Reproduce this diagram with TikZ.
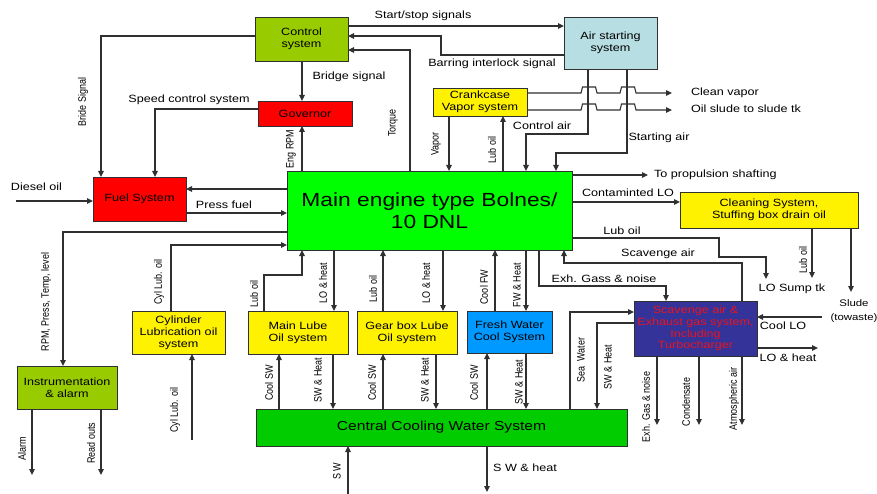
\documentclass[tikz,border=0pt]{standalone}
\usepackage{fontspec}
\usepackage{graphicx}
\setmainfont[FakeStretch=1.2]{Liberation Sans}
\newfontfamily\rotfont{Liberation Sans}
\usetikzlibrary{arrows.meta}
\definecolor{ctrlg}{HTML}{99CC00}
\definecolor{airb}{HTML}{B7DEE3}
\definecolor{maing}{HTML}{00FF00}
\definecolor{ccwg}{HTML}{00CC00}
\definecolor{freshb}{HTML}{0099FF}
\definecolor{scavb}{HTML}{333399}
\definecolor{scavt}{HTML}{E8141E}
\definecolor{lnc}{HTML}{303030}
\newcommand{\vs}[1]{\scalebox{1}[1.2]{#1}}
\begin{document}
\begin{tikzpicture}[x=1pt,y=-1pt,
  box/.style={draw=lnc, line width=0.9pt, inner sep=1pt, outer sep=0pt, align=center, font=\fontsize{10.5}{12}\selectfont},
  conn/.style={draw=lnc, line width=1.1pt},
  arr/.style={conn, -{Triangle[length=6pt,width=5.5pt]}},
  lbl/.style={inner sep=0pt, outer sep=0pt, font=\fontsize{10.5}{12}\selectfont},
  slbl/.style={inner sep=0pt, outer sep=0pt, font=\fontsize{9.5}{11}\selectfont},
  vlbl/.style={inner sep=0pt, outer sep=0pt, rotate=90, font=\rotfont\fontsize{9}{11}\selectfont}]
\useasboundingbox (0,0) rectangle (877,494);
\fill[white] (0,0) rectangle (877,494);

% boxes
\node[box, fill=ctrlg, minimum width=93pt, minimum height=44pt] (ctrl) at (301.5,39) {Control\\system};
\node[box, fill=airb, minimum width=93pt, minimum height=52pt] (air) at (610.5,43) {Air starting\\system};
\node[box, fill=red, minimum width=94pt, minimum height=25pt] (gov) at (305,113.5) {Governor};
\node[box, fill=yellow, minimum width=94pt, minimum height=28pt] (crank) at (480,102) {Crankcase\\Vapor system};
\node[box, fill=red, minimum width=93pt, minimum height=44pt] (fuel) at (139.5,199) {Fuel System};
\node[box, fill=maing, minimum width=285pt, minimum height=79pt, font=\fontsize{19}{22}\selectfont] (main) at (429.5,210.5) {Main engine type Bolnes/\\10 DNL};
\node[box, fill=yellow, minimum width=178pt, minimum height=36pt] (clean) at (769,210) {Cleaning System,\\Stuffing box drain oil};
\node[box, fill=yellow, minimum width=93pt, minimum height=43pt] (cyl) at (178.5,332.5) {Cylinder\\Lubrication oil\\system};
\node[box, fill=yellow, minimum width=100pt, minimum height=43pt] (mlube) at (298,332.5) {Main Lube\\Oil system};
\node[box, fill=yellow, minimum width=100pt, minimum height=43pt] (gear) at (407,332.5) {Gear box Lube\\Oil system};
\node[box, fill=freshb, minimum width=85pt, minimum height=42pt] (fresh) at (509.5,332) {Fresh Water\\Cool System};
\node[box, fill=ctrlg, minimum width=100pt, minimum height=43pt] (instr) at (67,387.5) {Instrumentation\\\& alarm};
\node[box, fill=ccwg, minimum width=371pt, minimum height=37pt, font=\fontsize{13}{15}\selectfont] (ccw) at (441.5,427.5) {Central Cooling Water System};
\node[box, fill=scavb, text=scavt, minimum width=123pt, minimum height=55pt, font=\fontsize{10.5}{11.8}\selectfont] (scav) at (695.5,328.5) {Scavenge air \&\\Exhaust gas system,\\Including\\Turbocharger};

% free ends
\coordinate (dsrc) at (16,201);
\coordinate (prop) at (648,175);
\coordinate (sump) at (766,279);
\coordinate (cllo) at (812,278);
\coordinate (slud) at (851,292);
\coordinate (cool) at (822,317);
\coordinate (lohe) at (818,348);
\coordinate (cv) at (672,93);
\coordinate (os) at (672,110);
\coordinate (ex1) at (657,425);
\coordinate (ex2) at (699,425);
\coordinate (ex3) at (742,425);
\coordinate (swin) at (348,494);
\coordinate (swout) at (487,492);
\coordinate (cylin) at (192,440);
\coordinate (al) at (32,475);
\coordinate (ro) at (101,475);

% connectors top
\draw[arr] (ctrl.east |- 0,26) -- (air.west |- 0,26);
\draw[arr] (air.west |- 0,55) -- (441,55) -- (441,36) -- (ctrl.east |- 0,36);
\draw[arr] (main.north -| 410,0) -- (410,50) -- (ctrl.east |- 0,50);
\draw[arr] (ctrl.south -| 302,0) -- (gov.north -| 302,0);
\draw[arr] (main.north -| 302,0) -- (gov.south -| 302,0);
\draw[arr] (ctrl.west |- 0,36) -- (101,36) -- (fuel.north -| 101,0);
\draw[arr] (gov.west |- 0,109) -- (155,109) -- (fuel.north -| 155,0);
\draw[arr] (crank.south -| 449,0) -- (main.north -| 449,0);
\draw[arr] (main.north -| 503,0) -- (crank.south -| 503,0);
\draw[arr] (air.south -| 588,0) -- (588,134) -- (526,134) -- (main.north -| 526,0);
\draw[arr] (air.south -| 627,0) -- (627,153) -- (556,153) -- (main.north -| 556,0);
\draw[arr] (crank.east |- 0,93) -- (581,93) -- (582.5,87) -- (595.5,87) -- (597,93) -- (620,93) -- (621.5,87) -- (634.5,87) -- (636,93) -- (cv);
\draw[arr] (crank.east |- 0,110) -- (581,110) -- (582.5,104) -- (595.5,104) -- (597,110) -- (620,110) -- (621.5,104) -- (634.5,104) -- (636,110) -- (os);

% left
\draw[arr] (dsrc) -- (fuel.west |- dsrc);
\draw[arr] (main.west |- 0,189) -- (fuel.east |- 0,189);
\draw[arr] (fuel.east |- 0,213) -- (main.west |- 0,213);
\draw[arr] (main.west |- 0,232) -- (63,232) -- (instr.north -| 63,0);
\draw[arr] (cyl.north -| 171,0) -- (171,245) -- (main.west |- 0,245);
\draw[arr] (cylin) -- (cyl.south -| cylin);
\draw[arr] (instr.south -| al) -- (al);
\draw[arr] (instr.south -| ro) -- (ro);

% engine bottom
\draw[arr] (mlube.north -| 264,0) -- (264,275) -- (302,275) -- (main.south -| 302,0);
\draw[arr] (main.south -| 334,0) -- (mlube.north -| 334,0);
\draw[arr] (gear.north -| 383,0) -- (main.south -| 383,0);
\draw[arr] (main.south -| 443,0) -- (gear.north -| 443,0);
\draw[arr] (fresh.north -| 495,0) -- (main.south -| 495,0);
\draw[arr] (main.south -| 526,0) -- (fresh.north -| 526,0);
\draw[arr] (main.south -| 539,0) -- (539,286) -- (666,286) -- (scav.north -| 666,0);
\draw[arr] (scav.north -| 742,0) -- (742,263) -- (564,263) -- (main.south -| 564,0);

% engine right
\draw[arr] (main.east |- prop) -- (prop);
\draw[arr] (main.east |- 0,202) -- (clean.west |- 0,202);
\draw[arr] (main.east |- 0,238) -- (719,238) -- (719,257) -- (766,257) -- (sump);
\draw[arr] (clean.south -| cllo) -- (cllo);
\draw[arr] (clean.south -| slud) -- (slud);

% scavenge
\draw[arr] (cool) -- (scav.east |- cool);
\draw[arr] (scav.east |- lohe) -- (lohe);
\draw[arr] (ccw.north -| 570,0) -- (570,312) -- (scav.west |- 0,312);
\draw[arr] (scav.west |- 0,323) -- (597,323) -- (ccw.north -| 597,0);
\draw[arr] (scav.south -| ex1) -- (ex1);
\draw[arr] (scav.south -| ex2) -- (ex2);
\draw[arr] (scav.south -| ex3) -- (ex3);

% central cooling
\draw[arr] (ccw.north -| 279,0) -- (mlube.south -| 279,0);
\draw[arr] (mlube.south -| 333,0) -- (ccw.north -| 333,0);
\draw[arr] (ccw.north -| 383,0) -- (gear.south -| 383,0);
\draw[arr] (gear.south -| 436,0) -- (ccw.north -| 436,0);
\draw[arr] (ccw.north -| 487,0) -- (fresh.south -| 487,0);
\draw[arr] (fresh.south -| 526,0) -- (ccw.north -| 526,0);
\draw[arr] (swin) -- (ccw.south -| swin);
\draw[arr] (ccw.south -| swout) -- (swout);

% labels
\node[lbl] (t1) at (423,15.5) {Start/stop signals};
\node[lbl] (t2) at (492,64) {Barring interlock signal};
\node[lbl] (t3) at (349,77) {Bridge signal};
\node[vlbl] (t4) at (393,123) {\vs{Torque}};
\node[lbl] (t5) at (189,100) {Speed control system};
\node[vlbl] (t6) at (83,102) {\vs{Bride Signal}};
\node[vlbl] (t7) at (291,149) {\vs{Eng RPM}};
\node[vlbl] (t8) at (436,144) {\vs{Vapor}};
\node[vlbl] (t9) at (492,150) {\vs{Lub oil}};
\node[lbl] (t10) at (542,126) {Control air};
\node[lbl] (t11) at (659,138) {Starting air};
\node[lbl, anchor=west] (t12) at (691,93) {Clean vapor};
\node[lbl, anchor=west] (t13) at (691,109) {Oil slude to slude tk};
\node[lbl] (t14) at (36.5,187) {Diesel oil};
\node[lbl] (t15) at (224,205) {Press fuel};
\node[vlbl] (t16) at (46,302) {\vs{RPM, Press, Temp, level}};
\node[vlbl] (t17) at (159,282) {\vs{Cyl Lub. oil}};
\node[vlbl] (t18) at (254,294) {\vs{Lub oil}};
\node[vlbl] (t19) at (323,283) {\vs{LO \& heat}};
\node[vlbl] (t20) at (373,289) {\vs{Lub oil}};
\node[vlbl] (t21) at (426,283) {\vs{LO \& heat}};
\node[vlbl] (t22) at (484,287) {\vs{Cool FW}};
\node[vlbl] (t23) at (517,285) {\vs{FW \& Heat}};
\node[lbl] (t24) at (604,279) {Exh. Gass \& noise};
\node[lbl] (t25) at (658,254) {Scavenge air};
\node[lbl] (t26) at (622,231) {Lub oil};
\node[lbl] (t27) at (628,193) {Contaminted LO};
\node[lbl, anchor=west] (t28) at (654,175) {To propulsion shafting};
\node[vlbl] (t29) at (803,260) {\vs{Lub oil}};
\node[lbl] (t30) at (792,289) {LO Sump tk};
\node[slbl] (t31) at (854,303) {Slude};
\node[slbl] (t32) at (854,318) {(towaste)};
\node[lbl] (t33) at (783,326) {Cool LO};
\node[lbl] (t34) at (788,358) {LO \& heat};
\node[vlbl] (t35) at (581,360) {\vs{Sea\ \ Water}};
\node[vlbl] (t36) at (608,367) {\vs{SW \& Heat}};
\node[vlbl] (t37) at (646,407) {\vs{Exh. Gas \& noise}};
\node[vlbl] (t38) at (686,402) {\vs{Condensate}};
\node[vlbl] (t39) at (734,399) {\vs{Atmospheric air}};
\node[vlbl] (t40) at (269,383) {\vs{Cool SW}};
\node[vlbl] (t41) at (318,380) {\vs{SW \& Heat}};
\node[vlbl] (t42) at (372,383) {\vs{Cool SW}};
\node[vlbl] (t43) at (425,380) {\vs{SW \& Heat}};
\node[vlbl] (t44) at (474,383) {\vs{Cool SW}};
\node[vlbl] (t45) at (519,382) {\vs{SW \& Heat}};
\node[vlbl] (t46) at (337,471) {\vs{S W}};
\node[lbl] (t47) at (525,468) {S W \& heat};
\node[vlbl] (t48) at (175,410) {\vs{Cyl Lub. oil}};
\node[vlbl] (t49) at (22,449) {\vs{Alarm}};
\node[vlbl] (t50) at (91,443) {\vs{Read outs}};
\end{tikzpicture}
\end{document}
